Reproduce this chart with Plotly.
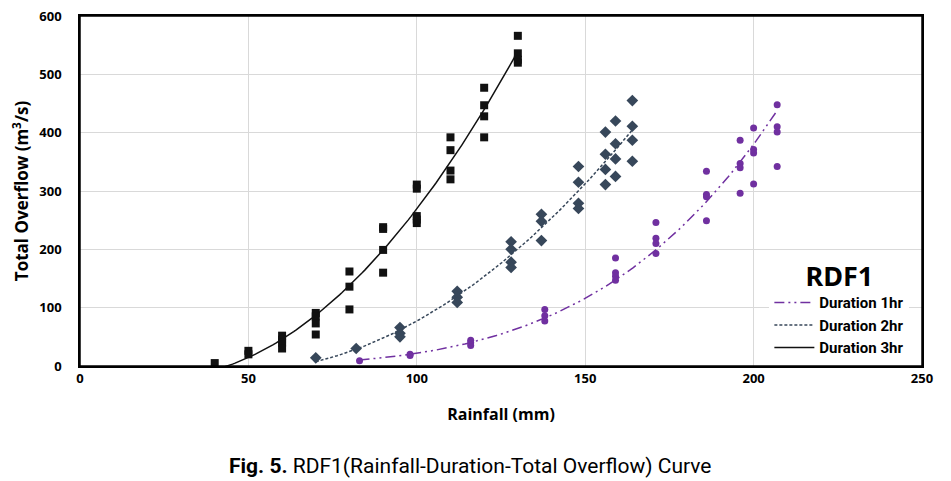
import numpy as np
import plotly.graph_objects as go

# Rainfall (mm) / Total overflow (m3/s) per duration
rain_3hr = [40, 50, 50, 60, 60, 60, 60, 70, 70, 70, 70, 80, 80, 80, 90, 90, 90, 90,
            100, 100, 100, 100, 100, 110, 110, 110, 110, 120, 120, 120, 120, 130, 130, 130, 130]
flow_3hr = [5, 26, 20, 52, 45, 40, 30, 91, 85, 73, 54, 162, 136, 97, 238, 235, 199, 160,
            311, 304, 257, 251, 245, 392, 370, 335, 320, 477, 447, 428, 392, 566, 536, 525, 520]

rain_2hr = [70, 82, 95, 95, 95, 112, 112, 112, 128, 128, 128, 128, 137, 137, 137,
            148, 148, 148, 148, 156, 156, 156, 156, 159, 159, 159, 159, 164, 164, 164, 164]
flow_2hr = [14, 30, 66, 56, 50, 128, 118, 109, 213, 200, 178, 169, 260, 248, 215,
            342, 315, 279, 270, 401, 363, 337, 311, 420, 381, 355, 325, 455, 411, 387, 351]

rain_1hr = [83, 98, 98, 116, 116, 116, 138, 138, 138, 159, 159, 159, 159, 171, 171, 171, 171,
            186, 186, 186, 186, 196, 196, 196, 196, 200, 200, 200, 200, 207, 207, 207, 207]
flow_1hr = [9, 18, 20, 44, 40, 35, 97, 86, 77, 185, 160, 154, 147, 246, 219, 210, 193,
            334, 294, 290, 249, 387, 347, 340, 296, 408, 371, 365, 312, 448, 410, 401, 342]

x_ticks = [0, 50, 100, 150, 200, 250]
y_ticks = [0, 100, 200, 300, 400, 500, 600]

series = [
    # name, x, y, color, marker symbol, marker size, dash, trendline type
    ('Duration 1hr', rain_1hr, flow_1hr, '#7030A0', 'circle', 7, '10px,4px,2px,4px,2px,4px', 'power'),
    ('Duration 2hr', rain_2hr, flow_2hr, '#37475A', 'diamond', 9, '3px,2px', 'poly'),
    ('Duration 3hr', rain_3hr, flow_3hr, '#111111', 'square', 8, 'solid', 'poly'),
]

def trendline(xs, ys, kind):
    xf = np.linspace(min(xs), max(xs), 120)
    if kind == 'power':
        b, ln_a = np.polyfit(np.log(xs), np.log(ys), 1)
        return xf, np.exp(ln_a) * xf ** b
    coef = np.polyfit(xs, ys, 2)
    return xf, np.polyval(coef, xf)

fig = go.Figure()

for name, xs, ys, color, symbol, size, dash, kind in series:
    fig.add_trace(go.Scatter(
        x = xs, y = ys, mode = 'markers', showlegend = False,
        marker = dict(symbol = symbol, size = size, color = color)
    ))

for name, xs, ys, color, symbol, size, dash, kind in series:
    xf, yf = trendline(xs, ys, kind)
    fig.add_trace(go.Scatter(
        x = xf, y = yf, mode = 'lines', name = name,
        line = dict(color = color, width = 1.5, dash = dash)
    ))

axis_common = dict(
    showgrid = True, gridcolor = '#d9d9d9', gridwidth = 1,
    showline = True, linecolor = 'black', linewidth = 1.5, mirror = True,
    zeroline = False, ticks = '', ticklabeloverflow = 'allow',
    tickfont = dict(family = 'Open Sans', size = 13, color = 'black', weight = 'bold'),
)

# page body adds an 8px offset, so the figure is drawn 8px smaller
fig.update_layout(
    width = 943, height = 473,
    margin = dict(l = 72, r = 29, t = 8, b = 115, autoexpand = False),
    plot_bgcolor = 'white', paper_bgcolor = 'white',
    xaxis = dict(
        range = [0, 250], tickvals = x_ticks, automargin = False,
        title = dict(text = 'Rainfall (mm)', standoff = 22,
                     font = dict(family = 'Open Sans', size = 16, color = 'black', weight = 'bold')),
        **axis_common
    ),
    yaxis = dict(
        range = [0, 600], tickvals = y_ticks, automargin = False, ticklabelstandoff = 14,
        title = dict(text = 'Total Overflow (m<sup>3</sup>/s)', standoff = 8,
                     font = dict(family = 'Open Sans', size = 17, color = 'black', weight = 'bold')),
        **axis_common
    ),
    legend = dict(
        x = 0.985, xanchor = 'right', y = 0.005, yanchor = 'bottom',
        bgcolor = 'white', borderwidth = 0,
        title = dict(text = '<b>RDF1</b>', side = 'top center',
                     font = dict(family = 'Noto Sans', size = 27, color = 'black')),
        font = dict(family = 'Roboto', size = 15, color = 'black', weight = 'bold'),
        tracegroupgap = 0, itemwidth = 40,
    ),
    shapes = [dict(type = 'rect', xref = 'paper', yref = 'paper', x0 = 0, y0 = 0, x1 = 1, y1 = 1,
                   line = dict(color = 'black', width = 1.5))],
    annotations = [dict(
        text = '<b>Fig. 5.</b> RDF1(Rainfall-Duration-Total Overflow) Curve',
        xref = 'paper', yref = 'paper', x = 0.463, y = -0.246,
        xanchor = 'center', yanchor = 'top', showarrow = False,
        font = dict(family = 'Roboto', size = 21, color = 'black')
    )],
)

fig.write_html('out.html')
